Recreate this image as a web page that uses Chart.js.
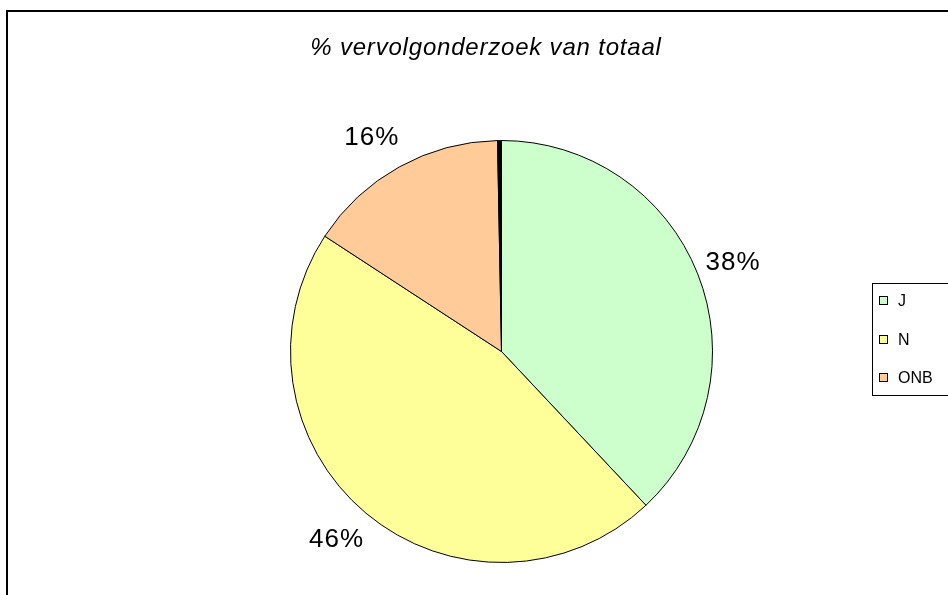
<!DOCTYPE html>
<html>
<head>
<meta charset="utf-8">
<script src="https://cdn.jsdelivr.net/npm/chart.js@4/dist/chart.umd.min.js"></script>
<style>
  html, body { margin: 0; padding: 0; background: #ffffff; }
  canvas { display: block; }
</style>
</head>
<body>
<canvas id="c" width="948" height="595"></canvas>
<script>
// ---- data ----
const chartTitle = "% vervolgonderzoek van totaal";
const categories = ["J", "N", "ONB", ""];
const values = [38.0, 46.2, 15.5, 0.3];
const legendCategories = ["J", "N", "ONB"];
const sliceColors = ["#CCFFCC", "#FFFF99", "#FFCC99", "#000000"];

const total = values.reduce((a, b) => a + b, 0);

const framePlugin = {
  id: 'frame',
  beforeDraw(chart) {
    const ctx = chart.ctx;
    ctx.save();
    ctx.fillStyle = '#ffffff';
    ctx.fillRect(0, 0, chart.width, chart.height);
    ctx.strokeStyle = '#000000';
    ctx.lineWidth = 2;
    ctx.strokeRect(7, 11, 1100, 1000);
    ctx.restore();
  }
};

const decoPlugin = {
  id: 'deco',
  afterDatasetsDraw(chart) {
    const ctx = chart.ctx;
    ctx.save();
    // title
    ctx.fillStyle = '#000000';
    ctx.font = "italic 24px 'Liberation Sans', Arial, sans-serif";
    ctx.letterSpacing = '0.8px';
    ctx.textAlign = 'center';
    ctx.textBaseline = 'alphabetic';
    ctx.fillText(chartTitle, 486, 55);

    // percentage labels
    const meta = chart.getDatasetMeta(0);
    ctx.font = "26px 'Liberation Sans', Arial, sans-serif";
    ctx.letterSpacing = '1px';
    ctx.textBaseline = 'middle';
    const nudges = [[0, 3], [-5, -3], [-9, 4]];
    meta.data.forEach((arc, i) => {
      if (!categories[i]) return;
      const p = arc.getProps(['x', 'y', 'startAngle', 'endAngle', 'outerRadius'], true);
      const mid = (p.startAngle + p.endAngle) / 2;
      const d = p.outerRadius + 38;
      const x = p.x + Math.cos(mid) * d + nudges[i][0];
      const y = p.y + Math.sin(mid) * d + nudges[i][1];
      const pct = Math.round(values[i] / total * 100) + '%';
      ctx.fillText(pct, x, y);
    });

    // legend
    ctx.letterSpacing = '0px';
    ctx.lineWidth = 1;
    ctx.strokeStyle = '#000000';
    ctx.strokeRect(872.5, 283.5, 120, 112);
    ctx.font = "16px 'Liberation Sans', Arial, sans-serif";
    ctx.textAlign = 'left';
    ctx.textBaseline = 'middle';
    legendCategories.forEach((name, i) => {
      const cy = Math.round(301 + i * 38.5);
      ctx.fillStyle = sliceColors[i];
      ctx.fillRect(879.5, cy - 4.5, 8, 8);
      ctx.strokeRect(879.5, cy - 4.5, 8, 8);
      ctx.fillStyle = '#000000';
      ctx.fillText(name, 898, cy + 1);
    });
    ctx.restore();
  }
};

new Chart(document.getElementById('c'), {
  type: 'pie',
  data: {
    labels: categories,
    datasets: [{
      data: values,
      backgroundColor: sliceColors,
      borderColor: '#000000',
      borderWidth: 1
    }]
  },
  options: {
    responsive: false,
    animation: false,
    rotation: 0,
    layout: { padding: { left: 290, right: 235, top: 140, bottom: 32 } },
    plugins: {
      legend: { display: false },
      title: { display: false },
      tooltip: { enabled: false }
    }
  },
  plugins: [framePlugin, decoPlugin]
});
</script>
</body>
</html>
